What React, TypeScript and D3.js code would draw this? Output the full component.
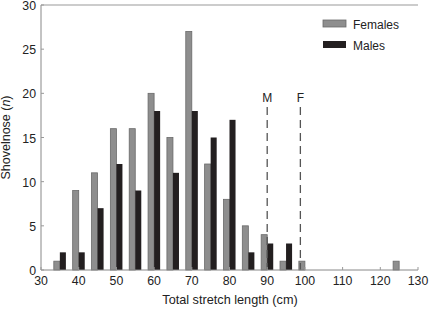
import React from "react";
import * as d3 from "d3";

const femaleBins = [35, 40, 45, 50, 55, 60, 65, 70, 75, 80, 85, 90, 95, 100, 125];
const femaleCounts = [1, 9, 11, 16, 16, 20, 15, 27, 12, 8, 5, 4, 1, 1, 1];
const maleBins = [35, 40, 45, 50, 55, 60, 65, 70, 75, 80, 85, 90, 95];
const maleCounts = [2, 2, 7, 12, 9, 18, 11, 18, 15, 17, 2, 3, 3];
const xTicks = [30, 40, 50, 60, 70, 80, 90, 100, 110, 120, 130];
const yTicks = [0, 5, 10, 15, 20, 25, 30];
const maturity = [
  { label: "M", value: 90 },
  { label: "F", value: 98.8 },
];

const W = 429;
const H = 309;
const left = 41;
const right = 418;
const top = 5;
const bottom = 270;

export default function App() {
  const x = d3.scaleLinear().domain([30, 130]).range([left, right]);
  const y = d3.scaleLinear().domain([0, 30]).range([bottom, top]);
  const bw = x(31.6) - x(30);
  const font = "'Liberation Sans', Arial, sans-serif";
  return (
    <svg width={W} height={H} style={{ position: "absolute", left: 0, top: 0 }} fontFamily={font}>
      <rect x={0} y={0} width={W} height={H} fill="#fff" />
      {femaleBins.map((b, i) => (
        <rect key={"f" + i} x={x(b) - bw} y={y(femaleCounts[i])} width={bw} height={bottom - y(femaleCounts[i])}
          fill="#8e8e8e" stroke="#6a6a6a" strokeWidth={0.8} />
      ))}
      {maleBins.map((b, i) => (
        <rect key={"m" + i} x={x(b)} y={y(maleCounts[i])} width={bw} height={bottom - y(maleCounts[i])}
          fill="#231f20" />
      ))}
      {maturity.map((m) => (
        <g key={m.label}>
          <line x1={x(m.value)} x2={x(m.value)} y1={107} y2={bottom} stroke="#555" strokeWidth={1.3} strokeDasharray="8,5" />
          <text x={x(m.value)} y={102} textAnchor="middle" fontSize={12} fill="#222">{m.label}</text>
        </g>
      ))}
      <line x1={left} x2={right} y1={top} y2={top} stroke="#999" strokeWidth={1} />
      <line x1={left} x2={left} y1={top} y2={bottom} stroke="#888" strokeWidth={1} />
      <line x1={left} x2={right} y1={bottom} y2={bottom} stroke="#888" strokeWidth={1} />
      {xTicks.map((t) => (
        <g key={"x" + t}>
          <line x1={x(t)} x2={x(t)} y1={bottom} y2={bottom - 3} stroke="#999" />
          <text x={x(t)} y={bottom + 15} textAnchor="middle" fontSize={12.3} fill="#222">{t}</text>
        </g>
      ))}
      {yTicks.map((t) => (
        <g key={"y" + t}>
          <line x1={left} x2={left + 3} y1={y(t)} y2={y(t)} stroke="#999" />
          <text x={left - 5} y={y(t) + 5} textAnchor="end" fontSize={12.3} fill="#222">{t}</text>
        </g>
      ))}
      <text x={230} y={304} textAnchor="middle" fontSize={12.7} fill="#222">Total stretch length (cm)</text>
      <text transform={`translate(10,${(top + bottom) / 2}) rotate(-90)`} textAnchor="middle" fontSize={12.5} fill="#222">
        Shovelnose (<tspan fontStyle="italic">n</tspan>)
      </text>
      <rect x={323} y={20} width={23} height={7} fill="#8e8e8e" stroke="#6a6a6a" strokeWidth={0.8} />
      <text x={353} y={29} fontSize={12} fill="#222">Females</text>
      <rect x={323} y={41} width={23} height={7} fill="#231f20" />
      <text x={353} y={50} fontSize={12} fill="#222">Males</text>
    </svg>
  );
}
